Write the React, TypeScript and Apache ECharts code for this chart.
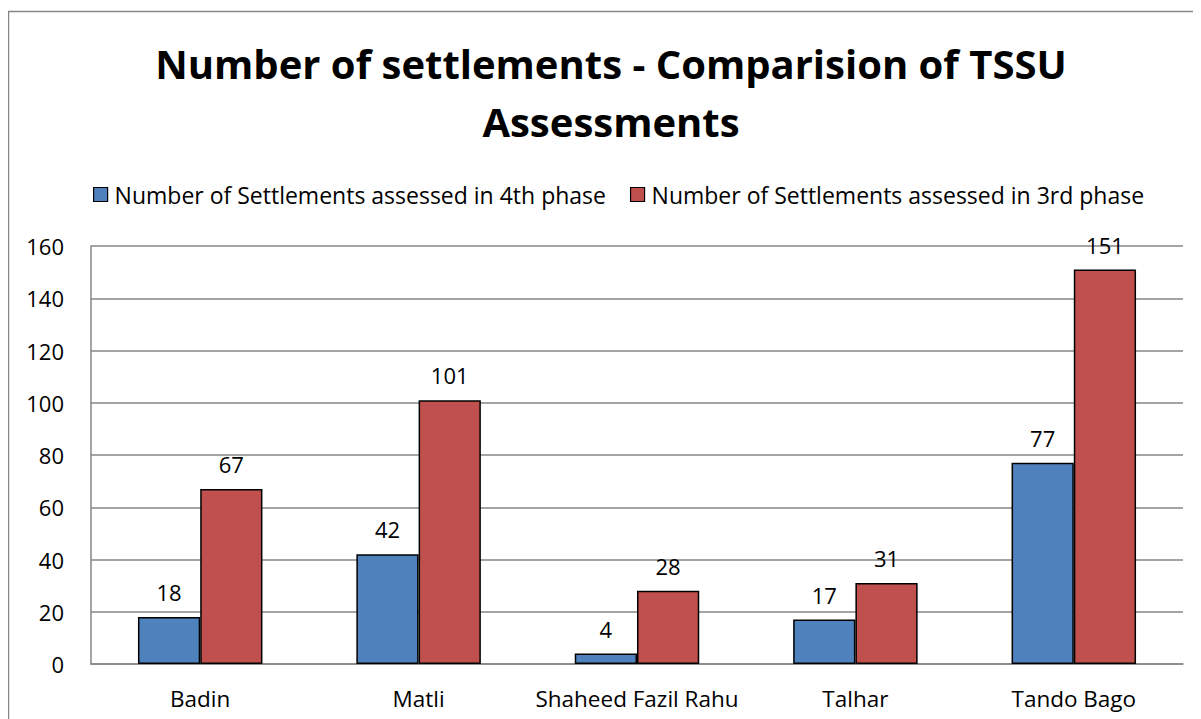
import React, { useEffect, useRef } from "react";
import * as echarts from "echarts";

const categories = ["Badin", "Matli", "Shaheed Fazil Rahu", "Talhar", "Tando Bago"];
const phase4 = [18, 42, 4, 17, 77];
const phase3 = [67, 101, 28, 31, 151];
const seriesNames = [
  "Number of Settlements assessed in 4th phase",
  "Number of Settlements assessed in 3rd phase",
];
const titleText = "Number of settlements - Comparision of TSSU\nAssessments";

const FONT = "'Open Sans', sans-serif";

export default function App() {
  const ref = useRef<HTMLDivElement>(null);
  useEffect(() => {
    if (!ref.current) return;
    const chart = echarts.init(ref.current, undefined, { renderer: "svg" });
    const labelStyle = {
      show: true,
      position: "top" as const,
      distance: 14,
      fontSize: 22,
      color: "#000",
      fontFamily: FONT,
    };
    chart.setOption({
      animation: false,
      backgroundColor: "#fff",
      graphic: [
        {
          type: "rect",
          shape: { x: 0.5, y: 3.5, width: 1400, height: 900 },
          style: { fill: "none", stroke: "#868686", lineWidth: 1.5 },
          silent: true,
          z: -1,
        },
      ],
      title: {
        text: titleText,
        left: 598,
        top: 21,
        textAlign: "center",
        padding: 5,
        textStyle: {
          fontFamily: FONT,
          fontSize: 40,
          fontWeight: "bold",
          color: "#000",
          lineHeight: 58,
        },
      },
      legend: {
        top: 170,
        left: 80,
        itemWidth: 14,
        itemHeight: 14,
        itemGap: 24,
        icon: "rect",
        itemStyle: { borderColor: "#000", borderWidth: 1.2 },
        textStyle: { fontFamily: FONT, fontSize: 23, color: "#000", padding: [0, 0, 0, 2] },
        data: seriesNames,
      },
      grid: { left: 83, right: 18, top: 238, bottom: 55, containLabel: false },
      xAxis: {
        type: "category",
        data: categories,
        axisLine: { show: true, lineStyle: { color: "#868686", width: 1.5 } },
        axisTick: { show: false },
        axisLabel: { interval: 0, fontFamily: FONT, fontSize: 22.5, color: "#000", margin: 23 },
      },
      yAxis: {
        type: "value",
        min: 0,
        max: 160,
        interval: 20,
        axisLine: { show: true, lineStyle: { color: "#868686", width: 1.5 } },
        axisTick: { show: false },
        splitLine: { lineStyle: { color: "#868686", width: 1.5 } },
        axisLabel: { fontFamily: FONT, fontSize: 22, color: "#000", margin: 27 },
      },
      series: [
        {
          name: seriesNames[0],
          type: "bar",
          data: phase4,
          barGap: "0%",
          barCategoryGap: "43%",
          itemStyle: { color: "#4F81BD", borderColor: "#000", borderWidth: 1.5 },
          label: labelStyle,
        },
        {
          name: seriesNames[1],
          type: "bar",
          data: phase3,
          barGap: "0%",
          barCategoryGap: "43%",
          itemStyle: { color: "#C0504D", borderColor: "#000", borderWidth: 1.5 },
          label: labelStyle,
        },
      ],
    });
    return () => chart.dispose();
  }, []);
  return <div ref={ref} style={{ width: 1193, height: 711 }} />;
}
